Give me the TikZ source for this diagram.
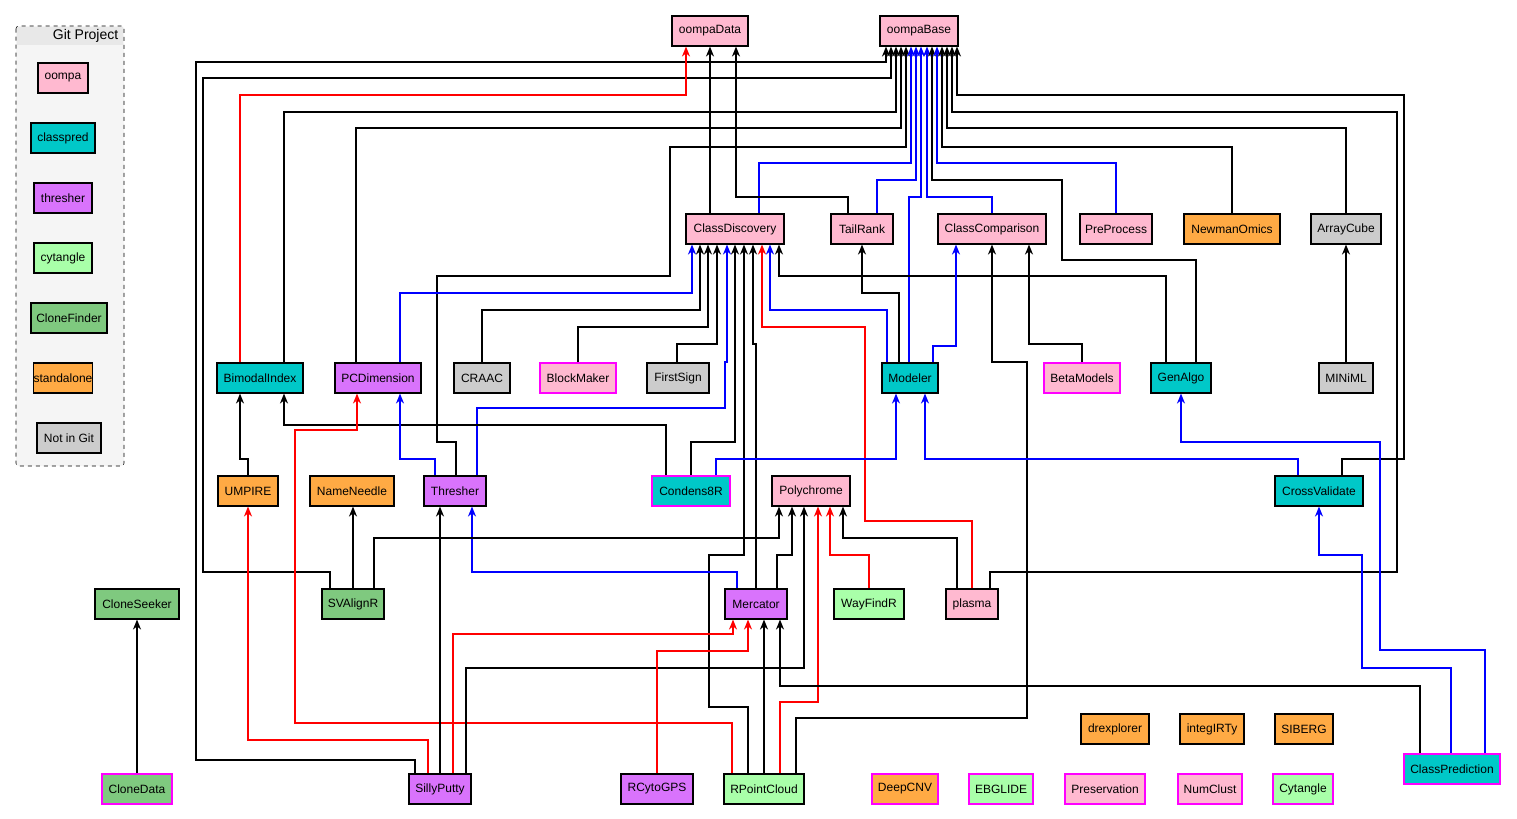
\documentclass[tikz,border=0pt]{standalone}
\usepackage{fontspec}
\setmainfont{Liberation Sans}
\usetikzlibrary{arrows.meta}
\definecolor{cpink}{HTML}{FFB9D0}
\definecolor{ccyan}{HTML}{00C8C8}
\definecolor{cpurp}{HTML}{D973FC}
\definecolor{clgreen}{HTML}{A9FFA9}
\definecolor{cgreen}{HTML}{7FC97F}
\definecolor{corange}{HTML}{FFAA44}
\definecolor{cgray}{HTML}{CCCCCC}
\definecolor{cmag}{HTML}{FF00FF}
\begin{document}
\begin{tikzpicture}[x=0.75pt,y=-0.75pt,
  nb/.style={draw=black,line width=0.8pt,minimum height=22.5pt,inner sep=0pt,font=\fontsize{9}{10}\selectfont},
  w/.style={minimum width=#1*0.75pt},
  mg/.style={draw=cmag,line width=1.5pt},
  e/.style={-{Stealth[length=7.5pt,width=6pt]},line width=1.3pt,black},
  er/.style={e,red},
  eb/.style={e,blue}]
\useasboundingbox (0,0) rectangle (1517,818);
% legend
\draw[dashed,fill=gray!8,rounded corners=2pt] (16,26) rectangle (124,466);
\fill[gray!18] (17,27) rectangle (123,45);
\node[font=\fontsize{10.5}{12}\selectfont,anchor=east] (lt) at (123,36) {Git Project};
\node[nb,w=50,fill=cpink] (L1) at (63,78) {oompa};
\node[nb,w=64,fill=ccyan] (L2) at (63,138) {classpred};
\node[nb,w=58,fill=cpurp] (L3) at (63,198) {thresher};
\node[nb,w=58,fill=clgreen] (L4) at (63,258) {cytangle};
\node[nb,w=76,fill=cgreen] (L5) at (69,318) {CloneFinder};
\node[nb,w=58,fill=corange] (L6) at (63,378) {standalone};
\node[nb,w=64,fill=cgray] (L7) at (69,438) {Not in Git};
% nodes
\node[nb,w=76,fill=cpink] (oompaData) at (710,31) {oompaData};
\node[nb,w=78,fill=cpink] (oompaBase) at (919,31) {oompaBase};
\node[nb,w=98,fill=cpink] (CD) at (735,229) {ClassDiscovery};
\node[nb,w=62,fill=cpink] (TailRank) at (862,229) {TailRank};
\node[nb,w=108,fill=cpink] (CC) at (992,229) {ClassComparison};
\node[nb,w=72,fill=cpink] (PreProcess) at (1116,229) {PreProcess};
\node[nb,w=96,fill=corange] (NewmanOmics) at (1232,229) {NewmanOmics};
\node[nb,w=70,fill=cgray] (ArrayCube) at (1346,229) {ArrayCube};
\node[nb,w=86,fill=ccyan] (BimodalIndex) at (260,378) {BimodalIndex};
\node[nb,w=86,fill=cpurp] (PCDimension) at (378,378) {PCDimension};
\node[nb,w=56,fill=cgray] (CRAAC) at (482,378) {CRAAC};
\node[nb,mg,w=76,fill=cpink] (BlockMaker) at (578,378) {BlockMaker};
\node[nb,w=62,fill=cgray] (FirstSign) at (678,378) {FirstSign};
\node[nb,w=56,fill=ccyan] (Modeler) at (910,378) {Modeler};
\node[nb,mg,w=76,fill=cpink] (BetaModels) at (1082,378) {BetaModels};
\node[nb,w=60,fill=ccyan] (GenAlgo) at (1181,378) {GenAlgo};
\node[nb,w=54,fill=cgray] (MINiML) at (1346,378) {MINiML};
\node[nb,w=60,fill=corange] (UMPIRE) at (248,491) {UMPIRE};
\node[nb,w=84,fill=corange] (NameNeedle) at (352,491) {NameNeedle};
\node[nb,w=62,fill=cpurp] (Thresher) at (455,491) {Thresher};
\node[nb,mg,w=78,fill=ccyan] (Condens8R) at (691,491) {Condens8R};
\node[nb,w=78,fill=cpink] (Polychrome) at (811,491) {Polychrome};
\node[nb,w=88,fill=ccyan] (CrossValidate) at (1319,491) {CrossValidate};
\node[nb,w=84,fill=cgreen] (CloneSeeker) at (137,604) {CloneSeeker};
\node[nb,w=62,fill=cgreen] (SVAlignR) at (353,604) {SVAlignR};
\node[nb,w=62,fill=cpurp] (Mercator) at (756,604) {Mercator};
\node[nb,w=70,fill=clgreen] (WayFindR) at (869,604) {WayFindR};
\node[nb,w=52,fill=cpink] (plasma) at (972,604) {plasma};
\node[nb,w=68,fill=corange] (drexplorer) at (1115,729) {drexplorer};
\node[nb,w=64,fill=corange] (integIRTy) at (1212,729) {integIRTy};
\node[nb,w=58,fill=corange] (SIBERG) at (1304,729) {SIBERG};
\node[nb,mg,w=96,fill=ccyan] (ClassPrediction) at (1452,769) {ClassPrediction};
\node[nb,mg,w=70,fill=cgreen] (CloneData) at (137,789) {CloneData};
\node[nb,w=62,fill=cpurp] (SillyPutty) at (440,789) {SillyPutty};
\node[nb,w=72,fill=cpurp] (RCytoGPS) at (657,789) {RCytoGPS};
\node[nb,w=80,fill=clgreen] (RPointCloud) at (764,789) {RPointCloud};
\node[nb,mg,w=66,fill=corange] (DeepCNV) at (905,789) {DeepCNV};
\node[nb,mg,w=64,fill=clgreen] (EBGLIDE) at (1001,789) {EBGLIDE};
\node[nb,mg,w=80,fill=cpink] (Preservation) at (1105,789) {Preservation};
\node[nb,mg,w=64,fill=cpink] (NumClust) at (1210,789) {NumClust};
\node[nb,mg,w=60,fill=clgreen] (Cytangle) at (1303,789) {Cytangle};
% edges to oompaBase
\draw[e] (415,0 |- SillyPutty.north) -- (415,760) -- (196,760) -- (196,62) -- (886,62) -- (886,0 |- oompaBase.south);
\draw[e] (330,0 |- SVAlignR.north) -- (330,572) -- (203,572) -- (203,78) -- (891,78) -- (891,0 |- oompaBase.south);
\draw[e] (284,0 |- BimodalIndex.north) -- (284,112) -- (896,112) -- (896,0 |- oompaBase.south);
\draw[e] (356,0 |- PCDimension.north) -- (356,128) -- (901,128) -- (901,0 |- oompaBase.south);
\draw[e] (456,0 |- Thresher.north) -- (456,442) -- (437,442) -- (437,276) -- (670,276) -- (670,147) -- (906,147) -- (906,0 |- oompaBase.south);
\draw[eb] (759,0 |- CD.north) -- (759,163) -- (911,163) -- (911,0 |- oompaBase.south);
\draw[eb] (877,0 |- TailRank.north) -- (877,180) -- (916,180) -- (916,0 |- oompaBase.south);
\draw[eb] (909,0 |- Modeler.north) -- (909,197) -- (921,197) -- (921,0 |- oompaBase.south);
\draw[eb] (992,0 |- CC.north) -- (992,197) -- (927,197) -- (927,0 |- oompaBase.south);
\draw[e] (1196,0 |- GenAlgo.north) -- (1196,260) -- (1062,260) -- (1062,180) -- (932,180) -- (932,0 |- oompaBase.south);
\draw[eb] (1116,0 |- PreProcess.north) -- (1116,163) -- (937,163) -- (937,0 |- oompaBase.south);
\draw[e] (1232,0 |- NewmanOmics.north) -- (1232,147) -- (942,147) -- (942,0 |- oompaBase.south);
\draw[e] (1346,0 |- ArrayCube.north) -- (1346,128) -- (947,128) -- (947,0 |- oompaBase.south);
\draw[e] (990,0 |- plasma.north) -- (990,572) -- (1397,572) -- (1397,112) -- (952,112) -- (952,0 |- oompaBase.south);
\draw[e] (1342,0 |- CrossValidate.north) -- (1342,459) -- (1404,459) -- (1404,95) -- (957,95) -- (957,0 |- oompaBase.south);
% oompaData
\draw[er] (240,0 |- BimodalIndex.north) -- (240,95) -- (686,95) -- (686,0 |- oompaData.south);
\draw[e] (710,0 |- CD.north) -- (710,0 |- oompaData.south);
\draw[e] (848,0 |- TailRank.north) -- (848,197) -- (736,197) -- (736,0 |- oompaData.south);
% ClassDiscovery
\draw[eb] (400,0 |- PCDimension.north) -- (400,293) -- (692,293) -- (692,0 |- CD.south);
\draw[e] (482,0 |- CRAAC.north) -- (482,310) -- (700,310) -- (700,0 |- CD.south);
\draw[e] (578,0 |- BlockMaker.north) -- (578,327) -- (708,327) -- (708,0 |- CD.south);
\draw[e] (677,0 |- FirstSign.north) -- (677,344) -- (717,344) -- (717,0 |- CD.south);
\draw[eb] (477,0 |- Thresher.north) -- (477,408) -- (725,408) -- (725,362) -- (727,362) -- (727,0 |- CD.south);
\draw[e] (691,0 |- Condens8R.north) -- (691,442) -- (735,442) -- (735,0 |- CD.south);
\draw[e] (748,0 |- RPointCloud.north) -- (748,707) -- (709,707) -- (709,555) -- (744,555) -- (744,0 |- CD.south);
\draw[e] (756,0 |- Mercator.north) -- (756,344) -- (753,344) -- (753,0 |- CD.south);
\draw[er] (972,0 |- plasma.north) -- (972,521) -- (865,521) -- (865,327) -- (762,327) -- (762,0 |- CD.south);
\draw[eb] (887,0 |- Modeler.north) -- (887,310) -- (770,310) -- (770,0 |- CD.south);
\draw[e] (1166,0 |- GenAlgo.north) -- (1166,276) -- (779,276) -- (779,0 |- CD.south);
% TailRank, ClassComparison, ArrayCube
\draw[e] (899,0 |- Modeler.north) -- (899,293) -- (862,293) -- (862,0 |- TailRank.south);
\draw[eb] (933,0 |- Modeler.north) -- (933,346) -- (956,346) -- (956,0 |- CC.south);
\draw[e] (796,0 |- RPointCloud.north) -- (796,718) -- (1027,718) -- (1027,362) -- (992,362) -- (992,0 |- CC.south);
\draw[e] (1082,0 |- BetaModels.north) -- (1082,344) -- (1029,344) -- (1029,0 |- CC.south);
\draw[e] (MINiML) -- (ArrayCube);
% Modeler, GenAlgo, CrossValidate
\draw[eb] (716,0 |- Condens8R.north) -- (716,459) -- (896,459) -- (896,0 |- Modeler.south);
\draw[eb] (1298,0 |- CrossValidate.north) -- (1298,459) -- (925,459) -- (925,0 |- Modeler.south);
\draw[eb] (1485,0 |- ClassPrediction.north) -- (1485,650) -- (1380,650) -- (1380,442) -- (1181,442) -- (1181,0 |- GenAlgo.south);
\draw[eb] (1451,0 |- ClassPrediction.north) -- (1451,668) -- (1362,668) -- (1362,555) -- (1319,555) -- (1319,0 |- CrossValidate.south);
% BimodalIndex, PCDimension
\draw[e] (248,0 |- UMPIRE.north) -- (248,459) -- (240,459) -- (240,0 |- BimodalIndex.south);
\draw[e] (666,0 |- Condens8R.north) -- (666,425) -- (284,425) -- (284,0 |- BimodalIndex.south);
\draw[er] (732,0 |- RPointCloud.north) -- (732,723) -- (295,723) -- (295,430) -- (357,430) -- (357,0 |- PCDimension.south);
\draw[eb] (435,0 |- Thresher.north) -- (435,459) -- (400,459) -- (400,0 |- PCDimension.south);
% UMPIRE, NameNeedle, Thresher, CloneSeeker
\draw[er] (428,0 |- SillyPutty.north) -- (428,740) -- (248,740) -- (248,0 |- UMPIRE.south);
\draw[e] (353,0 |- SVAlignR.north) -- (353,0 |- NameNeedle.south);
\draw[e] (440,0 |- SillyPutty.north) -- (440,0 |- Thresher.south);
\draw[eb] (737,0 |- Mercator.north) -- (737,572) -- (472,572) -- (472,0 |- Thresher.south);
\draw[e] (CloneData) -- (CloneSeeker);
% Polychrome
\draw[e] (374,0 |- SVAlignR.north) -- (374,538) -- (779,538) -- (779,0 |- Polychrome.south);
\draw[e] (777,0 |- Mercator.north) -- (777,555) -- (792,555) -- (792,0 |- Polychrome.south);
\draw[e] (466,0 |- SillyPutty.north) -- (466,668) -- (804,668) -- (804,0 |- Polychrome.south);
\draw[er] (780,0 |- RPointCloud.north) -- (780,702) -- (818,702) -- (818,0 |- Polychrome.south);
\draw[er] (869,0 |- WayFindR.north) -- (869,555) -- (830,555) -- (830,0 |- Polychrome.south);
\draw[e] (957,0 |- plasma.north) -- (957,538) -- (843,538) -- (843,0 |- Polychrome.south);
% Mercator
\draw[er] (453,0 |- SillyPutty.north) -- (453,634) -- (733,634) -- (733,0 |- Mercator.south);
\draw[er] (657,0 |- RCytoGPS.north) -- (657,651) -- (748,651) -- (748,0 |- Mercator.south);
\draw[e] (764,0 |- RPointCloud.north) -- (764,0 |- Mercator.south);
\draw[e] (1420,0 |- ClassPrediction.north) -- (1420,686) -- (780,686) -- (780,0 |- Mercator.south);
\end{tikzpicture}
\end{document}
